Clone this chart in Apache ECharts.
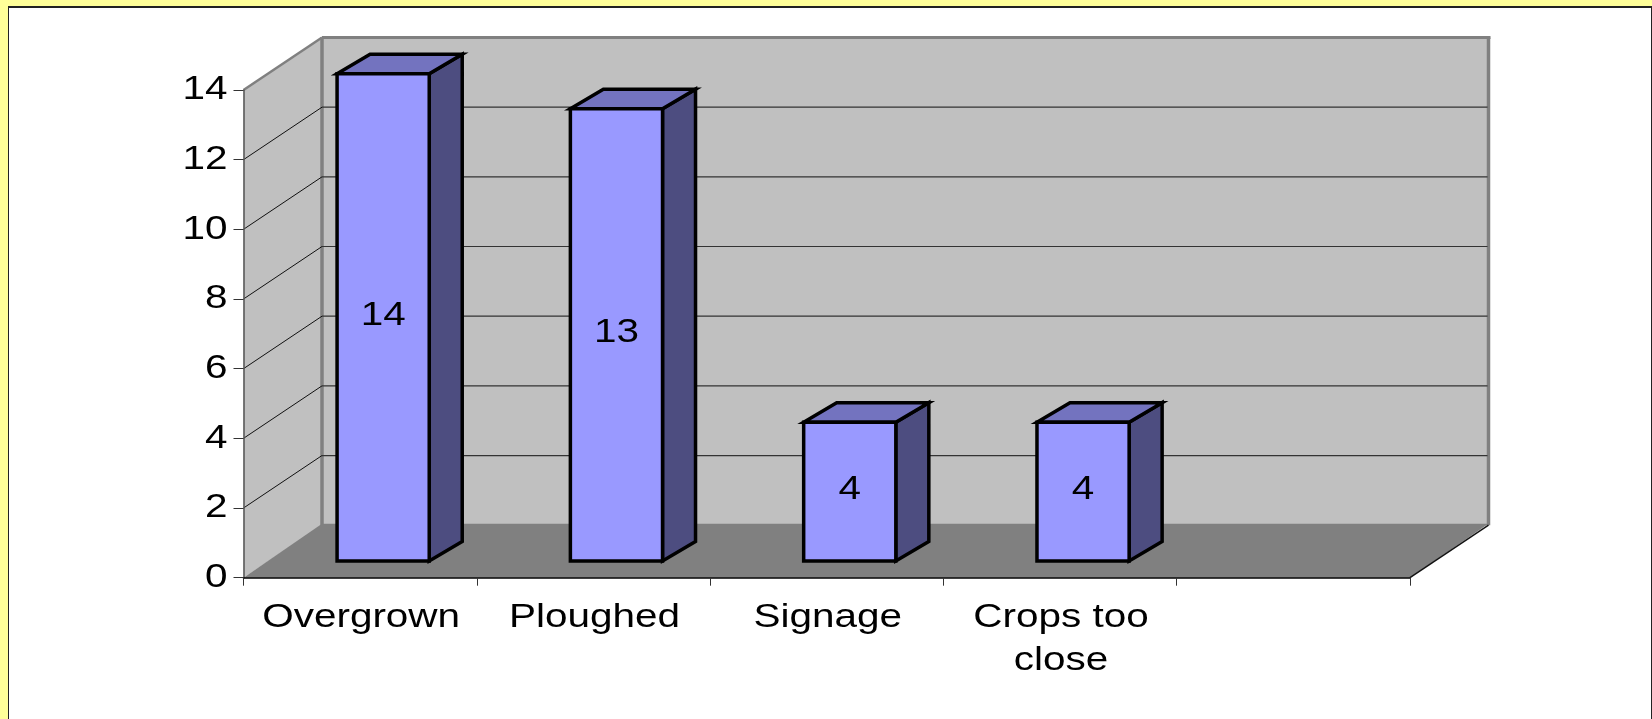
<!DOCTYPE html>
<html>
<head>
<meta charset="utf-8">
<title>Chart</title>
<script src="https://cdn.jsdelivr.net/npm/echarts@6/dist/echarts.min.js"></script>
<style>
  html, body { margin: 0; padding: 0; background: #ffff99; overflow: hidden; }
  .panel {
    position: absolute; left: 8px; top: 6px; width: 1642px; height: 720px;
    background: #fff; border: 1px solid #222; border-top-width: 2px;
  }
  #chart { position: absolute; left: 0; top: 0; width: 1652px; height: 719px; }
</style>
</head>
<body>
<div class="panel"></div>
<div id="chart"></div>
<script>
// the last category is empty in the original sheet
const categories = ["Overgrown", "Ploughed", "Signage", "Crops too\nclose", ""];
const values = [14, 13, 4, 4];
const valueTicks = [0, 2, 4, 6, 8, 10, 12, 14];

const FONT = "Liberation Sans";
const STRETCH = 1.19; // text in the picture is wider than plain Arial
const WALL = [78.5, -52.5]; // depth of the chart box
const BAR_SHIFT = [23, -16.7]; // bars stand a bit behind the front edge
const BAR_DEPTH = [33, -19.5];

function poly(points, fill, stroke, width) {
  return {
    type: "polygon",
    shape: { points: points },
    style: { fill: fill, stroke: stroke || null, lineWidth: width || 0, lineJoin: "miter" }
  };
}

function line(x1, y1, x2, y2, color, width) {
  return {
    type: "line",
    shape: { x1: x1, y1: y1, x2: x2, y2: y2 },
    style: { stroke: color, lineWidth: width }
  };
}

function wideText(text, x, y, align, verticalAlign) {
  return {
    type: "text",
    x: x,
    y: y,
    scaleX: STRETCH,
    style: {
      x: 0,
      y: 0,
      text: text,
      fill: "#000",
      font: "34px '" + FONT + "'",
      lineHeight: 43,
      align: align,
      verticalAlign: verticalAlign
    }
  };
}

// walls and floor
function renderBox(params, api) {
  const box = params.coordSys;
  const left = box.x;
  const right = box.x + box.width;
  const y0 = api.coord([0, 0])[1];
  const yTop = api.coord([0, 14])[1];
  const dx = WALL[0];
  const dy = WALL[1];
  return {
    type: "group",
    children: [
      poly([[left + dx, yTop + dy], [right + dx, yTop + dy], [right + dx, y0 + dy], [left + dx, y0 + dy]], "#c0c0c0"),
      poly([[left, yTop], [left + dx, yTop + dy], [left + dx, y0 + dy], [left, y0]], "#c0c0c0"),
      line(left, yTop, left + dx, yTop + dy, "#808080", 2.5),
      line(left + dx, yTop + dy, right + dx + 2, yTop + dy, "#808080", 3),
      line(left + dx, yTop + dy, left + dx, y0 + dy, "#808080", 3.5),
      line(right + dx, yTop + dy, right + dx, y0 + dy, "#808080", 3.5),
      poly([[left, y0], [left + dx, y0 + dy - 1.5], [right + dx, y0 + dy - 1.5], [right, y0]], "#808080"),
      line(right, y0, right + dx, y0 + dy, "#111", 1.5)
    ]
  };
}

// gridlines run along the left wall and then the back wall
function renderGrid(params, api) {
  const v = valueTicks[params.dataIndex];
  if (v === 0 || v === 14) return { type: "group", children: [] };
  const box = params.coordSys;
  const y = api.coord([0, v])[1];
  const bx = box.x + WALL[0];
  const by = y + WALL[1];
  return {
    type: "group",
    children: [
      line(box.x, y, bx, by, "#111", 1),
      line(bx, by, box.x + box.width + WALL[0] - 1, by, "#333", 1.2)
    ]
  };
}

function renderBar(params, api) {
  const i = api.value(0);
  const v = api.value(1);
  const base = api.coord([i, 0]);
  const top = api.coord([i, v]);
  const w = api.size([1, 0])[0] * 0.395;
  const l = base[0] + BAR_SHIFT[0] - w / 2;
  const r = l + w;
  const b = base[1] + BAR_SHIFT[1];
  const t = top[1] + BAR_SHIFT[1] + 0.5;
  const dx = BAR_DEPTH[0];
  const dy = BAR_DEPTH[1];
  return {
    type: "group",
    children: [
      poly([[r, t], [r + dx, t + dy], [r + dx, b + dy], [r, b]], "#4d4d80", "#000", 3.5),
      poly([[l, t], [l + dx, t + dy], [r + dx, t + dy], [r, t]], "#7373bf", "#000", 3.5),
      poly([[l, t], [r, t], [r, b], [l, b]], "#9999ff", "#000", 3.5),
      wideText(String(v), (l + r) / 2, (t + b) / 2 - 2, "center", "middle")
    ]
  };
}

function renderValueLabel(params, api) {
  const v = valueTicks[params.dataIndex];
  const y = api.coord([0, v])[1];
  return wideText(String(v), params.coordSys.x - 16, y, "right", "middle");
}

function renderCategoryLabel(params, api) {
  const x = api.coord([params.dataIndex, 0])[0];
  return wideText(categories[params.dataIndex], x + 1, params.coordSys.y + params.coordSys.height + 18, "center", "top");
}

const chart = echarts.init(document.getElementById("chart"));
chart.setOption({
  animation: false,
  backgroundColor: "transparent",
  tooltip: { show: false },
  legend: { show: false },
  grid: { left: 243.5, top: 90, width: 1166.5, height: 487.7 },
  xAxis: {
    type: "category",
    data: categories,
    z: 10,
    axisLine: { lineStyle: { color: "#000", width: 1.5 } },
    axisTick: { show: true, length: 8, alignWithLabel: false, lineStyle: { color: "#333", width: 1 } },
    axisLabel: { show: false },
    splitLine: { show: false }
  },
  yAxis: {
    type: "value",
    min: 0,
    max: 14,
    interval: 2,
    z: 10,
    axisLine: { show: true, lineStyle: { color: "#555", width: 1.5 } },
    axisTick: { show: true, length: 10, lineStyle: { color: "#333", width: 1 } },
    axisLabel: { show: false },
    splitLine: { show: false }
  },
  series: [
    { type: "custom", silent: true, z: 1, renderItem: renderBox, data: [0] },
    { type: "custom", silent: true, z: 2, renderItem: renderGrid, data: valueTicks },
    {
      type: "custom",
      silent: true,
      z: 3,
      renderItem: renderBar,
      encode: { x: 0, y: 1 },
      data: values.map((v, i) => [i, v])
    },
    { type: "custom", silent: true, z: 4, renderItem: renderValueLabel, data: valueTicks },
    { type: "custom", silent: true, z: 4, renderItem: renderCategoryLabel, data: categories.map((c, i) => i) }
  ]
});
</script>
</body>
</html>
